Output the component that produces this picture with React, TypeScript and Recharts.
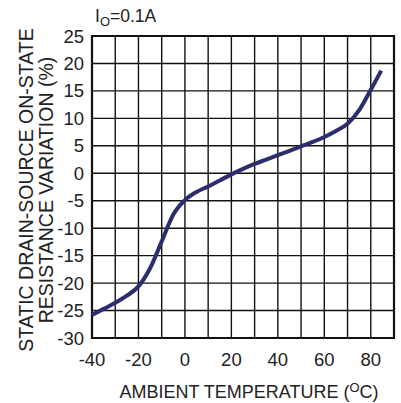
import React from 'react';
import { LineChart, Line, XAxis, YAxis, CartesianGrid, ReferenceArea } from 'recharts';

const temperatures = [-40, -35, -30, -25, -20, -15, -10, -5, 0, 5, 10, 15, 20, 25, 30, 35, 40, 45, 50, 55, 60, 65, 70, 75, 80, 84.5];
const variation = [-25.8, -24.7, -23.6, -22.3, -20.6, -17.3, -12.4, -7.5, -4.9, -3.4, -2.4, -1.3, -0.2, 0.8, 1.7, 2.5, 3.3, 4.1, 4.9, 5.7, 6.6, 7.7, 9.0, 11.5, 15.2, 18.7];
const xTicks = [-40, -30, -20, -10, 0, 10, 20, 30, 40, 50, 60, 70, 80, 90];
const xLabeled = [-40, -20, 0, 20, 40, 60, 80];
const yTicks = [-30, -25, -20, -15, -10, -5, 0, 5, 10, 15, 20, 25];
const yTitleLines = ['STATIC DRAIN-SOURCE ON-STATE', 'RESISTANCE VARIATION (%)'];

const data = temperatures.map((t, i) => ({ t, v: variation[i] }));
const FONT = '"Liberation Sans", Arial, Helvetica, sans-serif';

const YTitle = () => {
  const cy = 190;
  return (
    <g>
      <text x={26} y={cy} transform={`rotate(-90, 26, ${cy})`} textAnchor="middle" dominantBaseline="central" fontSize={19.5} fontFamily={FONT} fill="#222">{yTitleLines[0]}</text>
      <text x={46} y={cy} transform={`rotate(-90, 46, ${cy})`} textAnchor="middle" dominantBaseline="central" fontSize={19.5} fontFamily={FONT} fill="#222">{yTitleLines[1]}</text>
    </g>
  );
};

const XTitle = () => (
  <text x={249} y={398} textAnchor="middle" fontSize={18} fontFamily={FONT} fill="#222">
    AMBIENT TEMPERATURE (<tspan fontSize={13} dy={-6}>O</tspan><tspan dy={6}>C)</tspan>
  </text>
);

export default function App() {
  return (
    <div style={{ position: 'absolute', left: 0, top: 0, width: 401, height: 403, background: '#fff' }}>
      <LineChart width={401} height={403} data={data} margin={{ top: 36, right: 7, left: 0, bottom: 35 }}>
        <text x={95} y={22} fontSize={17.5} fontFamily={FONT} fill="#222">
          I<tspan fontSize={13} dy={4}>O</tspan><tspan dy={-4}>=0.1A</tspan>
        </text>
        <CartesianGrid stroke="#111" strokeWidth={1.4} />
        <XAxis
          dataKey="t"
          type="number"
          domain={[-40, 90]}
          ticks={xTicks}
          interval={0}
          axisLine={false}
          tickLine={false}
          tickSize={6}
          tickMargin={9}
          height={30}
          tick={{ fontSize: 18.5, fill: '#222', fontFamily: FONT }}
          tickFormatter={(v: number) => (xLabeled.includes(v) ? String(v) : '')}
          label={{ content: XTitle }}
        />
        <YAxis
          type="number"
          domain={[-30, 25]}
          ticks={yTicks}
          interval={0}
          axisLine={false}
          tickLine={false}
          tickSize={6}
          tickMargin={2}
          width={92}
          tick={{ fontSize: 18.5, fill: '#222', fontFamily: FONT }}
          label={{ content: YTitle }}
        />
        <ReferenceArea x1={-40} x2={90} y1={-30} y2={25} fill="none" stroke="#111" strokeWidth={2.2} fillOpacity={0} ifOverflow="visible" />
        <Line type="monotone" dataKey="v" stroke="#2c2d6c" strokeWidth={4} dot={false} isAnimationActive={false} />
      </LineChart>
    </div>
  );
}
